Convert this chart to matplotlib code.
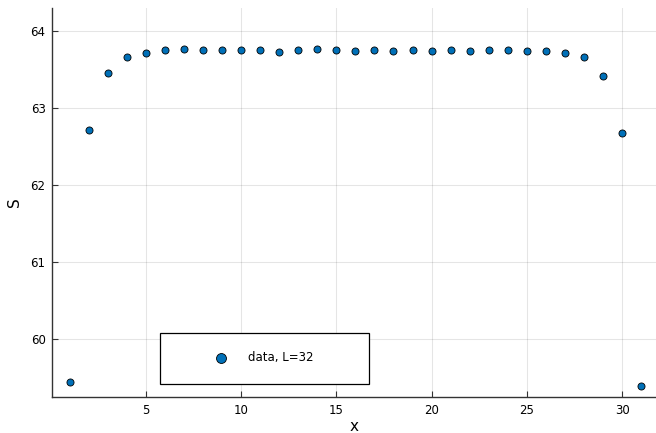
import matplotlib.pyplot as plt
from matplotlib.patches import Rectangle

# entropy per site along the chain
x = list(range(1, 32))
S = [59.44, 62.72, 63.45, 63.66, 63.71, 63.75, 63.77, 63.75, 63.75, 63.75,
     63.75, 63.73, 63.76, 63.77, 63.76, 63.74, 63.75, 63.74, 63.75, 63.74,
     63.75, 63.74, 63.75, 63.76, 63.74, 63.74, 63.71, 63.66, 63.42, 62.68,
     59.39]
xticks = [5, 10, 15, 20, 25, 30]
yticks = [60, 61, 62, 63, 64]

color = "#0070b8"

fig = plt.figure(figsize=(6.56, 4.33), dpi=100)
ax = fig.add_axes([0.080, 0.0838, 0.920, 0.8977])

ax.scatter(x, S, s=26, color=color, edgecolors="black", linewidths=0.6,
           zorder=3, label="data, L=32")

ax.set_xlim(0.1, 31.78)
ax.set_ylim(59.25, 64.3)
ax.set_xticks(xticks)
ax.set_yticks(yticks)
ax.grid(True, color="black", alpha=0.1, linewidth=0.8)
ax.set_axisbelow(True)

for side in ["top", "right"]:
    ax.spines[side].set_visible(False)
for side in ["left", "bottom"]:
    ax.spines[side].set_color("#333333")
    ax.spines[side].set_linewidth(1.0)
ax.tick_params(direction="in", length=4, width=0.8, color="#333333",
               labelsize=8.5, pad=5)

ax.set_xlabel("x", fontsize=11, labelpad=2)
ax.set_ylabel("S", fontsize=11, labelpad=6)

# legend box
box = Rectangle((0.178, 0.0327), 0.347, 0.132, transform=ax.transAxes,
                facecolor="white", edgecolor="black", linewidth=0.9, zorder=4)
ax.add_patch(box)
leg = ax.legend(loc="center left", bbox_to_anchor=(0.269, 0.0996),
                frameon=False, handlelength=1, handletextpad=1.8,
                borderpad=0, borderaxespad=0, markerscale=1.4, fontsize=8.5)
leg.set_zorder(5)

fig.savefig("out.png", dpi=100)
